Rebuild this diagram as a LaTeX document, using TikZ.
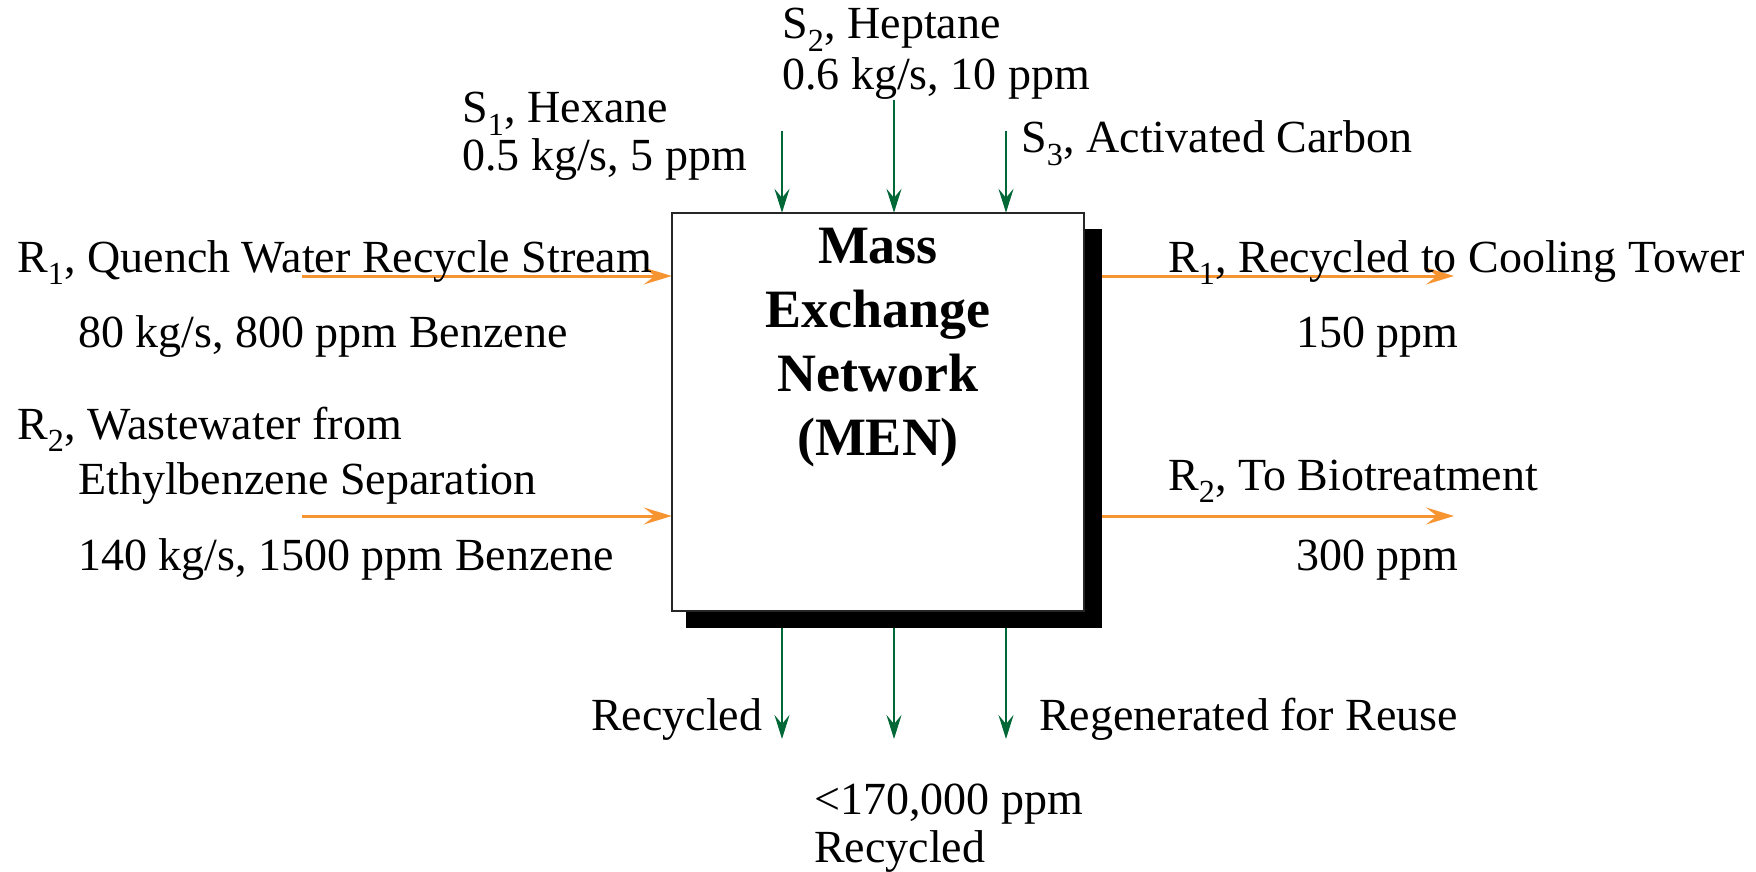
\documentclass[tikz,border=0pt]{standalone}
\usepackage{fontspec}
\setmainfont{Liberation Serif}
\usetikzlibrary{arrows.meta}

\definecolor{streamorange}{RGB}{247,148,50}
\definecolor{streamgreen}{RGB}{0,104,55}

\tikzset{
  lbl/.style={anchor=base west, inner sep=0pt, font=\fontsize{46}{52}\selectfont},
  richflow/.style={draw=streamorange, line width=3pt,
    -{Stealth[length=28pt,width=17pt,inset=11pt]}},
  leanflow/.style={draw=streamgreen, line width=2.5pt,
    -{Stealth[length=24pt,width=15pt,inset=9pt]}},
}

\begin{document}
\begin{tikzpicture}[x=1pt,y=-1pt]
\useasboundingbox (0,0) rectangle (1756,872);

% network block and its shadow (positions only, drawn later on top of the streams)
\path (878,412) node[minimum width=412pt, minimum height=398pt, inner sep=0pt] (box) {};
\path (894,428.5) node[minimum width=416pt, minimum height=399pt, inner sep=0pt] (shadow) {};

% free ends of the streams
\coordinate (r1in)  at (302,276);
\coordinate (r2in)  at (302,516);
\coordinate (r1out) at (1454,276);
\coordinate (r2out) at (1454,516);
\coordinate (s1in)  at (782,131);
\coordinate (s2in)  at (894,100);
\coordinate (s3in)  at (1006,131);
\coordinate (s1out) at (782,739);
\coordinate (s2out) at (894,739);
\coordinate (s3out) at (1006,739);

% rich (aqueous) streams
\draw[richflow] (r1in) -- (r1in -| box.west);
\draw[richflow] (r2in) -- (r2in -| box.west);
\draw[richflow] (r1out -| box.east) -- (r1out);
\draw[richflow] (r2out -| box.east) -- (r2out);

% lean (MSA) streams
\draw[leanflow] (s1in) -- (s1in |- box.north);
\draw[leanflow] (s2in) -- (s2in |- box.north);
\draw[leanflow] (s3in) -- (s3in |- box.north);
\draw[leanflow] (s1out |- shadow.south) -- (s1out);
\draw[leanflow] (s2out |- shadow.south) -- (s2out);
\draw[leanflow] (s3out |- shadow.south) -- (s3out);

% block
\fill[black] (shadow.north west) rectangle (shadow.south east);
\draw[line width=2.5pt, draw=black!85, fill=white] (box.north west) rectangle (box.south east);
\node[anchor=base, inner sep=0pt, align=center,
      font=\fontsize{54}{64}\selectfont\bfseries] (title) at (878,455)
  {Mass\\Exchange\\Network\\(MEN)};

% top labels
\node[lbl] (s2a) at (782,39)  {S\textsubscript{2}, Heptane};
\node[lbl] (s2b) at (782,90)  {0.6 kg/s, 10 ppm};
\node[lbl] (s1a) at (462,123) {S\textsubscript{1}, Hexane};
\node[lbl] (s1b) at (462,171) {0.5 kg/s, 5 ppm};
\node[lbl] (s3a) at (1021,153) {S\textsubscript{3}, Activated Carbon};

% left labels
\node[lbl] (r1a) at (17,272)  {R\textsubscript{1}, Quench Water Recycle Stream};
\node[lbl] (r1b) at (78,347)  {80 kg/s, 800 ppm Benzene};
\node[lbl] (r2a) at (17,439)  {R\textsubscript{2}, Wastewater from};
\node[lbl] (r2b) at (78,494)  {Ethylbenzene Separation};
\node[lbl] (r2c) at (78,570)  {140 kg/s, 1500 ppm Benzene};

% right labels
\node[lbl] (o1a) at (1168,272) {R\textsubscript{1}, Recycled to Cooling Tower};
\node[lbl] (o1b) at (1296,347) {150 ppm};
\node[lbl] (o2a) at (1168,490) {R\textsubscript{2}, To Biotreatment};
\node[lbl] (o2b) at (1296,570) {300 ppm};

% bottom labels
\node[lbl] (b1)  at (591,730)  {Recycled};
\node[lbl] (b3)  at (1039,730) {Regenerated for Reuse};
\node[lbl] (b2a) at (814,814)  {<170,000 ppm};
\node[lbl] (b2b) at (814,862)  {Recycled};
\end{tikzpicture}
\end{document}
